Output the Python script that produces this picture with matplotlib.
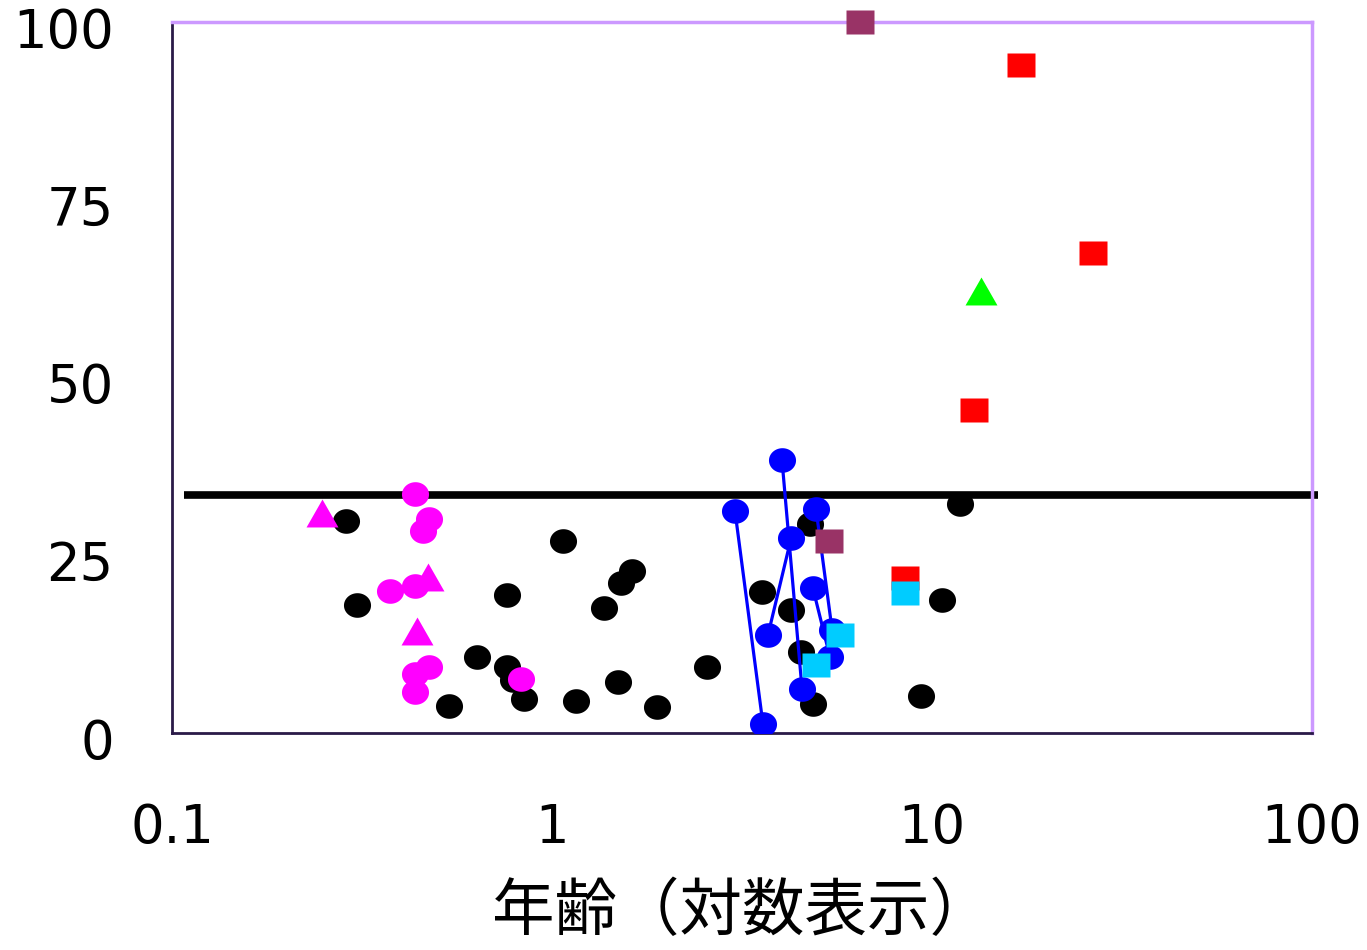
import numpy as np
import matplotlib as mpl
mpl.use('Agg')
import matplotlib.pyplot as plt
from matplotlib.path import Path
from matplotlib.transforms import ScaledTranslation

plt.rcParams['font.family'] = ['DejaVu Sans']

# age (years) / value pairs per group
black_x = [0.287, 0.307, 0.536, 0.635, 0.761, 0.761, 0.789, 0.844, 1.069, 1.157, 1.37, 1.49,
           1.52, 1.62, 1.89, 2.56, 3.57, 4.26, 4.52, 4.78, 4.86, 9.36, 10.6, 11.85]
black_y = [29.8, 17.9, 3.7, 10.6, 19.4, 9.2, 7.4, 4.7, 27.0, 4.4, 17.5, 7.1,
           21.0, 22.7, 3.6, 9.2, 19.8, 17.2, 11.3, 29.3, 4.0, 5.1, 18.6, 32.1]

pink_x = [0.436, 0.475, 0.4575, 0.375, 0.436, 0.475, 0.436, 0.436, 0.829]
pink_y = [33.6, 30.0, 28.4, 19.9, 20.6, 9.2, 8.2, 5.7, 7.5]

pink_tri_x = [0.248, 0.472, 0.441]
pink_tri_y = [30.9, 21.9, 14.3]

green_tri_x = [13.45]
green_tri_y = [62.1]

red_x = [17.15, 26.5, 12.9, 8.47]
red_y = [94.0, 67.5, 45.4, 21.7]

plum_x = [6.47, 5.37]
plum_y = [100.0, 27.0]

cyan_x = [8.47, 5.74, 4.94]
cyan_y = [19.6, 13.7, 9.5]

# follow-up pairs (first, second measurement)
blue_pairs_x = [[3.03, 3.59], [4.03, 4.55], [4.26, 3.70], [4.95, 5.46], [4.86, 5.39]]
blue_pairs_y = [[31.2, 1.2], [38.3, 6.1], [27.4, 13.7], [31.5, 14.4], [20.3, 10.6]]

cutoff = 33.4

yticks = [0, 25, 50, 75, 100]
xticks = [0.1, 1, 10, 100]
xticklabels = ['0.1', '1', '10', '100']
xlabel = '年齢（対数表示）'

# slightly wide ellipse / rectangle / triangle markers
t = np.linspace(0, 2 * np.pi, 60)
ellipse = Path(np.column_stack([1.1 * np.cos(t), np.sin(t)]), closed=True)
rect = Path([[-1.15, -1], [1.15, -1], [1.15, 1], [-1.15, 1], [-1.15, -1]], closed=True)
tri = Path([[-1, -0.875], [1, -0.875], [0, 0.875], [-1, -0.875]], closed=True)

fig = plt.figure(figsize=(13.67, 9.5), dpi=100)
ax = fig.add_axes([0.1258, 0.2289, 0.8340, 0.7479])
ax.set_xscale('log')
ax.set_xlim(0.1, 100)
ax.set_ylim(0, 100)

ax.plot([0.1076, 103.7], [cutoff, cutoff], color='black', lw=5.5, clip_on=False, zorder=2,
        solid_capstyle='butt')

ax.plot(black_x, black_y, ls='none', marker=ellipse, ms=19.5, color='black', mec='none', zorder=3)
ax.plot(pink_x, pink_y, ls='none', marker=ellipse, ms=19.5, color='#ff00ff', mec='none', zorder=3)
ax.plot(pink_tri_x, pink_tri_y, ls='none', marker=tri, ms=23, color='#ff00ff', mec='none', zorder=3)
ax.plot(green_tri_x, green_tri_y, ls='none', marker=tri, ms=23, color='#00ff00', mec='none', zorder=3)

for bx, by in zip(blue_pairs_x, blue_pairs_y):
    ax.plot(bx, by, color='#0000ff', lw=2.3, marker=ellipse, ms=19.5, mec='none', zorder=4)

ax.plot(red_x, red_y, ls='none', marker=rect, ms=20, color='#ff0000', mec='none', zorder=5)
ax.plot(plum_x, plum_y, ls='none', marker=rect, ms=20, color='#993366', mec='none', zorder=5,
        clip_on=False)
ax.plot(cyan_x, cyan_y, ls='none', marker=rect, ms=20, color='#00ccff', mec='none', zorder=6)

for side in ['left', 'bottom']:
    ax.spines[side].set_color('#2a1a48')
    ax.spines[side].set_linewidth(2)
for side in ['top', 'right']:
    ax.spines[side].set_color('#cc99ff')
    ax.spines[side].set_linewidth(2.5)

ax.set_yticks(yticks)
ax.set_yticklabels([str(v) for v in yticks])
ax.set_xticks(xticks)
ax.set_xticklabels(xticklabels)
ax.minorticks_off()
ax.tick_params(axis='both', length=0, labelsize=38)
ax.tick_params(axis='x', pad=50)
ax.tick_params(axis='y', pad=42)
shift = ScaledTranslation(0, -4 / 72, fig.dpi_scale_trans)
for lab in ax.get_yticklabels():
    lab.set_transform(lab.get_transform() + shift)

ax.set_xlabel(xlabel, fontsize=45, family=['Noto Sans CJK JP', 'DejaVu Sans'], labelpad=19)

fig.savefig('out.png', dpi=100)
